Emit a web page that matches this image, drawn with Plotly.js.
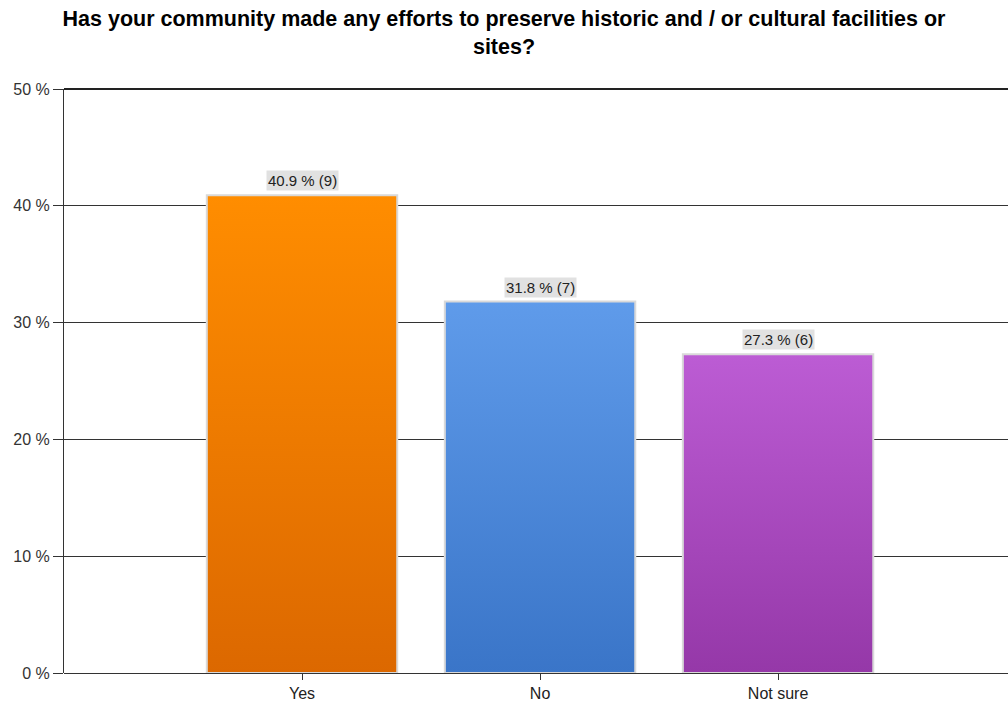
<!DOCTYPE html>
<html>
<head>
<meta charset="utf-8">
<script src="https://cdn.plot.ly/plotly-3.0.1.min.js"></script>
<style>
html,body{margin:0;padding:0;background:#fff;}
#chart{width:1008px;height:701px;}
</style>
</head>
<body>
<div id="chart"></div>
<script>
const categories = ["Yes", "No", "Not sure"];
const percents = [40.9, 31.8, 27.3];
const counts = [9, 7, 6];
const tickValues = [0, 10, 20, 30, 40, 50];
const topColors = ["#FF8D00", "#5F9BEA", "#BC5CD4"];
const bottomColors = ["#DC6800", "#3A75C8", "#9538A8"];
const midColors = ["#EE7A00", "#4C88DA", "#A94ABE"];

const FONT = "Liberation Sans, Arial, sans-serif";

const trace = {
  type: "bar",
  x: categories.map((c, i) => i),
  y: percents,
  width: 0.8,
  marker: { color: midColors, line: { color: "#d9d9d9", width: 2 } },
  hoverinfo: "none"
};

const annotations = percents.map((p, i) => ({
  x: i, y: p, xref: "x", yref: "y",
  text: p.toFixed(1) + " % (" + counts[i] + ")",
  showarrow: false, yanchor: "bottom", yshift: 4,
  bgcolor: "#e1e1e1", borderpad: 1,
  font: { family: FONT, size: 15, color: "#222" }
}));

const layout = {
  width: 1008, height: 701,
  margin: { l: 64, r: 0, t: 89, b: 28, pad: 0 },
  paper_bgcolor: "#fff", plot_bgcolor: "#fff",
  showlegend: false,
  title: {
    text: "<b>Has your community made any efforts to preserve historic and / or cultural facilities or<br>sites?</b>",
    x: 0.5, xref: "container", xanchor: "center",
    yref: "container", y: 1 - 26 / 701, yanchor: "middle",
    font: { family: FONT, size: 21.5, color: "#000" }
  },
  xaxis: {
    range: [-1, 2.966],
    tickvals: categories.map((c, i) => i),
    ticktext: categories,
    ticks: "outside", ticklen: 6, tickcolor: "#333", tickwidth: 1,
    showline: false, showgrid: false, zeroline: false,
    tickfont: { family: FONT, size: 16, color: "#222" },
    fixedrange: true
  },
  yaxis: {
    range: [0, 50],
    tickvals: tickValues,
    ticktext: tickValues.map(v => v + " %"),
    ticks: "outside", ticklen: 10, tickcolor: "#333", tickwidth: 1,
    showline: true, linecolor: "#333", linewidth: 1,
    showgrid: true, gridcolor: "#333", gridwidth: 1,
    zeroline: true, zerolinecolor: "#333", zerolinewidth: 1,
    tickfont: { family: FONT, size: 16, color: "#333" },
    fixedrange: true
  },
  shapes: [
    { type: "line", xref: "paper", yref: "paper", x0: 0, x1: 1, y0: 1, y1: 1,
      line: { color: "#222", width: 2 } }
  ],
  annotations: annotations
};

Plotly.newPlot("chart", [trace], layout, { displayModeBar: false, staticPlot: true }).then(gd => {
  const svg = gd.querySelector(".main-svg");
  const ns = "http://www.w3.org/2000/svg";
  let defs = svg.querySelector("defs");
  if (!defs) { defs = document.createElementNS(ns, "defs"); svg.insertBefore(defs, svg.firstChild); }
  const paths = gd.querySelectorAll(".trace.bars .point path");
  paths.forEach((p, i) => {
    const g = document.createElementNS(ns, "linearGradient");
    g.setAttribute("id", "barGrad" + i);
    g.setAttribute("x1", "0"); g.setAttribute("y1", "0");
    g.setAttribute("x2", "0"); g.setAttribute("y2", "1");
    const s1 = document.createElementNS(ns, "stop");
    s1.setAttribute("offset", "0"); s1.setAttribute("stop-color", topColors[i]);
    const s2 = document.createElementNS(ns, "stop");
    s2.setAttribute("offset", "1"); s2.setAttribute("stop-color", bottomColors[i]);
    g.appendChild(s1); g.appendChild(s2);
    defs.appendChild(g);
    p.style.fill = "url(#barGrad" + i + ")";
  });
});
</script>
</body>
</html>
